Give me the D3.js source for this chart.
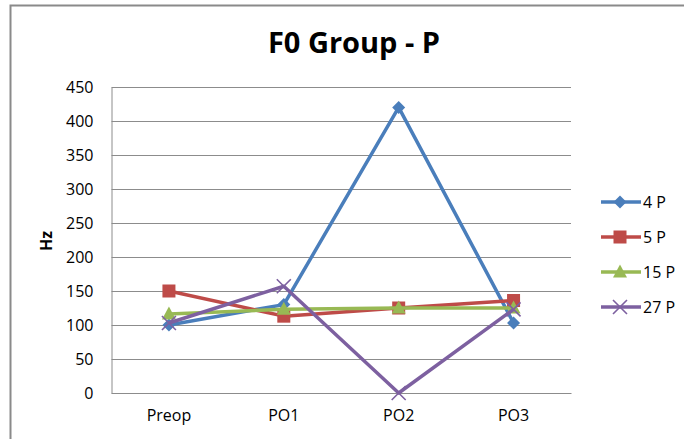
<!DOCTYPE html>
<html><head><meta charset="utf-8">
<script src="https://cdn.jsdelivr.net/npm/d3@7"></script>
<style>body{margin:0;background:#fff}svg{display:block}</style>
</head><body>
<svg id="c" width="685" height="439"></svg>
<script>
const categories = ["Preop", "PO1", "PO2", "PO3"];
const seriesNames = ["4 P", "5 P", "15 P", "27 P"];
const s4P = [100, 130, 420, 103];
const s5P = [150, 113, 125, 136];
const s15P = [116, 123, 125, 125];
const s27P = [103, 157, 0, 123];
const yTicks = [0, 50, 100, 150, 200, 250, 300, 350, 400, 450];
const colors = ["#4a7ebb", "#be4b48", "#98b954", "#7d60a0"];
const markers = ["diamond", "square", "triangle", "x"];

const series = [s4P, s5P, s15P, s27P].map((v, i) => ({name: seriesNames[i], values: v, color: colors[i], marker: markers[i]}));

const svg = d3.select("#c");
const font = "'Open Sans', 'Liberation Sans', Arial, sans-serif";
const m = {l: 111.5, r: 571, t: 87, b: 393};

// frame
svg.append("path").attr("d", "M10.5,439 V5.5 H684").attr("fill", "none").attr("stroke", "#8a8a8a").attr("stroke-width", 2);

const x = d3.scaleBand().domain(categories).range([m.l, m.r]);
const y = d3.scaleLinear().domain([0, 450]).range([m.b, m.t]);

// gridlines
svg.append("g").selectAll("line").data(yTicks).join("line")
  .attr("x1", m.l).attr("x2", m.r)
  .attr("y1", d => Math.round(y(d)) + 0.5).attr("y2", d => Math.round(y(d)) + 0.5)
  .attr("stroke", "#8c8c8c").attr("stroke-width", 1);

// y axis
const ya = svg.append("g").attr("transform", `translate(${m.l},0)`)
  .call(d3.axisLeft(y).tickValues(yTicks).tickSize(0).tickPadding(18));
ya.select(".domain").attr("stroke", "#8c8c8c");
ya.selectAll("text").attr("font-family", font).attr("font-size", 16).attr("fill", "#000");

// x axis
const xa = svg.append("g").attr("transform", `translate(0,${m.b})`)
  .call(d3.axisBottom(x).tickSize(0).tickPadding(17));
xa.select(".domain").attr("stroke", "#8c8c8c");
xa.selectAll("text").attr("font-family", font).attr("font-size", 16).attr("fill", "#000");

// title
svg.append("text").attr("x", 354).attr("y", 53).attr("text-anchor", "middle")
  .attr("font-family", font).attr("font-weight", "bold").attr("font-size", 29).text("F0 Group - P");

// y label
svg.append("text").attr("transform", "translate(52,241) rotate(-90)").attr("text-anchor", "middle")
  .attr("font-family", font).attr("font-weight", "bold").attr("font-size", 16).text("Hz");

function drawMarker(g, type, color) {
  if (type === "diamond") g.append("path").attr("d", "M0,-6.5L6.5,0L0,6.5L-6.5,0Z").attr("fill", color);
  else if (type === "square") g.append("rect").attr("x", -6.5).attr("y", -6.5).attr("width", 13).attr("height", 13).attr("fill", color);
  else if (type === "triangle") g.append("path").attr("d", "M0,-7.5L7,5.5L-7,5.5Z").attr("fill", color);
  else g.append("path").attr("d", "M-7,-7L7,7M-7,7L7,-7").attr("stroke", color).attr("stroke-width", 1.6);
}

const line = d3.line().x((d, i) => x(categories[i]) + x.bandwidth() / 2).y(d => y(d));
series.forEach(s => {
  svg.append("path").attr("d", line(s.values)).attr("fill", "none").attr("stroke", s.color)
    .attr("stroke-width", 3.5).attr("stroke-linejoin", "round");
  s.values.forEach((v, i) => {
    const g = svg.append("g").attr("transform", `translate(${x(categories[i]) + x.bandwidth() / 2},${y(v)})`);
    drawMarker(g, s.marker, s.color);
  });
});

// legend
const ly = d3.scalePoint().domain(seriesNames).range([202, 307]);
series.forEach(s => {
  const g = svg.append("g").attr("transform", `translate(0,${ly(s.name)})`);
  g.append("line").attr("x1", 601).attr("x2", 641).attr("stroke", s.color).attr("stroke-width", 3.5);
  const mg = g.append("g").attr("transform", "translate(620,0)");
  drawMarker(mg, s.marker, s.color);
  g.append("text").attr("x", 643).attr("y", 6).attr("font-family", font).attr("font-size", 16).text(s.name);
});
</script>
</body></html>
